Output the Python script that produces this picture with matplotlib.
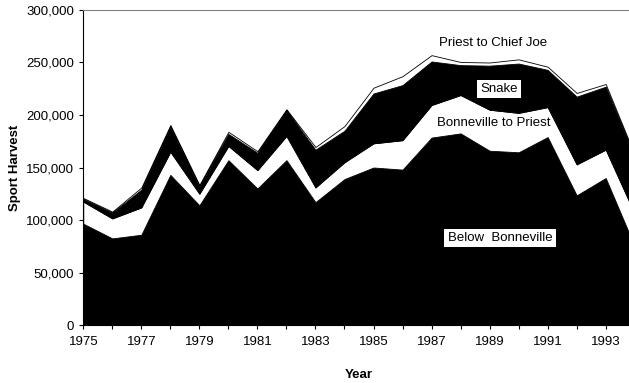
import matplotlib.pyplot as plt
import numpy as np
from matplotlib.ticker import MultipleLocator, FixedLocator, FuncFormatter

plt.rcParams['font.family'] = ['Liberation Sans', 'DejaVu Sans']

years = list(range(1975, 1995))
year_labels = list(range(1975, 1995, 2))

# cumulative tops
below_top = [96500, 82500, 86000, 143000, 114000, 157000, 130000, 157000, 117000, 139000,
             150000, 148000, 178500, 182500, 166000, 164500, 179000, 123500, 140000, 75000]
b2p_top = [117500, 101500, 112000, 165000, 125000, 170500, 147500, 180000, 131000, 155000,
           173000, 176000, 209500, 219000, 205000, 202000, 207500, 153000, 167000, 106000]
snake_top = [120000, 107000, 129000, 189000, 132000, 182000, 164000, 204500, 167000, 185000,
             220500, 228500, 251000, 247500, 247000, 249000, 243000, 217500, 227000, 160000]
total = [121000, 108000, 131000, 190500, 133500, 184000, 165500, 205500, 169500, 189500,
         226000, 237000, 257000, 250500, 250000, 253000, 246000, 221000, 229500, 162000]

below = np.array(below_top)
b2p = np.array(b2p_top) - np.array(below_top)
snake = np.array(snake_top) - np.array(b2p_top)
pcj = np.array(total) - np.array(snake_top)

fig = plt.figure(figsize=(6.29, 3.83), dpi=100)
# right edge of the plot area falls just outside the image, as in the original
ax = fig.add_axes([0.1324, 0.1514, 0.8767, 0.8225])

ax.stackplot(years, below, b2p, snake, pcj,
             colors=['black', 'white', 'black', 'white'],
             edgecolor='black', linewidth=0.6)

ax.set_xlim(1975, 1994)
ax.set_ylim(0, 300000)
ax.xaxis.set_major_locator(FixedLocator(year_labels))
ax.xaxis.set_minor_locator(FixedLocator(years))
ax.yaxis.set_major_locator(MultipleLocator(50000))
ax.yaxis.set_major_formatter(FuncFormatter(lambda v, p: f"{int(v):,}"))
ax.tick_params(axis='both', which='both', direction='out', length=3, width=0.8,
               labelsize=9.5, color='black')
ax.tick_params(axis='x', pad=5)
ax.tick_params(axis='y', pad=3.5)

for s in ['left', 'bottom']:
    ax.spines[s].set_color('black')
    ax.spines[s].set_linewidth(0.8)
ax.spines['top'].set_color('#808080')
ax.spines['top'].set_linewidth(0.8)
ax.spines['right'].set_color('#808080')

ax.set_xlabel('Year', fontsize=9.5, fontweight='bold', labelpad=15)
ax.set_ylabel('Sport Harvest', fontsize=9.5, fontweight='bold', labelpad=4)

box = dict(facecolor='white', edgecolor='none', pad=2.5)
ax.text(1989.12, 269000, 'Priest to Chief Joe', fontsize=9.5, ha='center', va='center')
ax.text(1989.32, 224800, 'Snake', fontsize=9.5, ha='center', va='center', bbox=box)
ax.text(1989.15, 192000, 'Bonneville to Priest', fontsize=9.5, ha='center', va='center')
ax.text(1989.36, 82900, 'Below  Bonneville', fontsize=9.5, ha='center', va='center', bbox=box)

fig.savefig('out.png', dpi=100)
